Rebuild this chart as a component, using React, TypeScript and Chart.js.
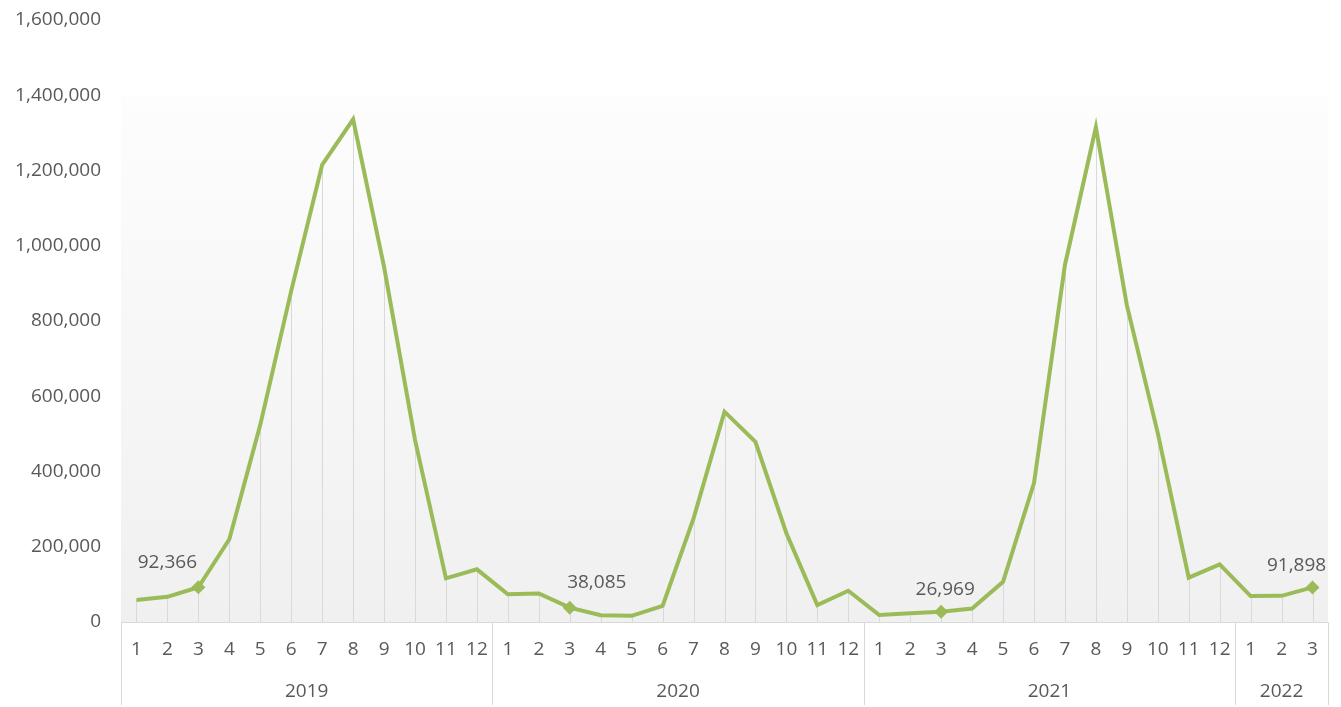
import React, { useEffect, useRef } from 'react';
import { Chart, registerables } from 'chart.js';

Chart.register(...registerables);

const years = ['2019', '2020', '2021', '2022'];
const monthsPerYear = [12, 12, 12, 3];
const monthLabels = [
  '1', '2', '3', '4', '5', '6', '7', '8', '9', '10', '11', '12',
  '1', '2', '3', '4', '5', '6', '7', '8', '9', '10', '11', '12',
  '1', '2', '3', '4', '5', '6', '7', '8', '9', '10', '11', '12',
  '1', '2', '3',
];
const values2019 = [58500, 67000, 92366, 220000, 524000, 880000, 1215000, 1336000, 944000, 484000, 116000, 140000];
const values2020 = [73600, 76000, 38085, 17800, 16500, 42500, 275600, 559000, 479000, 236000, 45000, 83000];
const values2021 = [18600, 23000, 26969, 36000, 107000, 369000, 949000, 1315000, 842000, 502000, 118000, 153000];
const values2022 = [69000, 69500, 91898];
const values = [...values2019, ...values2020, ...values2021, ...values2022];
const markedIndices = [2, 14, 26, 38];
const yTicks = [0, 200000, 400000, 600000, 800000, 1000000, 1200000, 1400000, 1600000];

const FONT = '"Open Sans", "Liberation Sans", sans-serif';
const FS = 19;
const TEXT = '#595959';
const LINE = '#9BBB59';
const AXIS = '#d9d9d9';

// label placement offsets relative to the marker (style only)
const labelDx = [-31, 27, 4, -16];
const labelDy = [-25, -25, -22, -22];

const fmt = (v: number) => v.toLocaleString('en-US');

const bgPlugin = {
  id: 'bg',
  beforeDraw(chart: any) {
    const { ctx, chartArea } = chart;
    const y = chart.scales.y;
    const top = y.getPixelForValue(1400000);
    const g = ctx.createLinearGradient(0, top, 0, chartArea.bottom);
    g.addColorStop(0, '#fdfdfd');
    g.addColorStop(1, '#f0f0f0');
    ctx.save();
    ctx.fillStyle = g;
    ctx.fillRect(chartArea.left, top, chartArea.right - chartArea.left, chartArea.bottom - top);
    ctx.restore();
  },
  beforeDatasetsDraw(chart: any) {
    const { ctx, chartArea } = chart;
    const meta = chart.getDatasetMeta(0);
    ctx.save();
    ctx.strokeStyle = AXIS;
    ctx.lineWidth = 1;
    meta.data.forEach((pt: any) => {
      const x = Math.round(pt.x) + 0.5;
      ctx.beginPath();
      ctx.moveTo(x, pt.y);
      ctx.lineTo(x, chartArea.bottom);
      ctx.stroke();
    });
    ctx.restore();
  },
  afterDraw(chart: any) {
    const { ctx, chartArea } = chart;
    const xs = chart.scales.x;
    const half = (xs.getPixelForValue(1) - xs.getPixelForValue(0)) / 2;
    const bottom = chart.height - 2;
    ctx.save();
    ctx.strokeStyle = AXIS;
    ctx.lineWidth = 1;
    let idx = 0;
    const bounds: number[] = [xs.getPixelForValue(0) - half];
    monthsPerYear.forEach((n) => {
      idx += n;
      bounds.push(xs.getPixelForValue(idx - 1) + half);
    });
    bounds.forEach((b) => {
      const x = Math.round(b) + 0.5;
      ctx.beginPath();
      ctx.moveTo(x, chartArea.bottom);
      ctx.lineTo(x, bottom);
      ctx.stroke();
    });
    ctx.fillStyle = TEXT;
    ctx.font = `${FS}px ${FONT}`;
    ctx.textAlign = 'center';
    ctx.textBaseline = 'middle';
    years.forEach((yr, i) => {
      ctx.fillText(yr, (bounds[i] + bounds[i + 1]) / 2, chartArea.bottom + 70);
    });
    // data labels
    const meta = chart.getDatasetMeta(0);
    markedIndices.forEach((mi, k) => {
      const pt = meta.data[mi];
      ctx.fillText(fmt(values[mi]), pt.x + labelDx[k], pt.y + labelDy[k]);
    });
    ctx.restore();
  },
};

export default function App() {
  const ref = useRef<HTMLCanvasElement>(null);
  useEffect(() => {
    document.body.style.margin = '0';
    const chart = new Chart(ref.current!, {
      type: 'line',
      data: {
        labels: monthLabels,
        datasets: [
          {
            data: values,
            borderColor: LINE,
            backgroundColor: LINE,
            borderWidth: 4,
            tension: 0,
            pointStyle: 'rectRot',
            pointRadius: values.map((_, i) => (markedIndices.includes(i) ? 7 : 0)),
            pointHoverRadius: 0,
            pointBorderWidth: 0,
            clip: false as any,
          },
        ],
      },
      options: {
        animation: false,
        responsive: false,
        layout: { padding: { top: 20, right: 13, left: 0, bottom: 0 } },
        plugins: { legend: { display: false }, tooltip: { enabled: false } },
        scales: {
          x: {
            offset: true,
            grid: { display: false, drawTicks: false },
            border: { display: true, color: AXIS, width: 1 },
            ticks: {
              color: TEXT,
              font: { family: FONT, size: FS },
              maxRotation: 0,
              autoSkip: false,
              padding: 16,
            },
            afterFit: (s: any) => {
              s.height = 85;
              s.paddingLeft = 0;
              s.paddingRight = 0;
            },
          },
          y: {
            min: 0,
            max: 1600000,
            grid: { display: false, drawTicks: false },
            border: { display: false },
            afterBuildTicks: (s: any) => {
              s.ticks = yTicks.map((v) => ({ value: v }));
            },
            ticks: {
              color: TEXT,
              font: { family: FONT, size: FS },
              padding: 20,
              callback: (v: any) => fmt(Number(v)),
            },
            afterFit: (s: any) => {
              s.width = 121;
              s.paddingTop = 0;
              s.paddingBottom = 0;
            },
          },
        },
      },
      plugins: [bgPlugin],
    });
    return () => chart.destroy();
  }, []);
  return (
    <div style={{ width: 1341, height: 707 }}>
      <canvas ref={ref} width={1341} height={707} style={{ display: 'block' }} />
    </div>
  );
}
